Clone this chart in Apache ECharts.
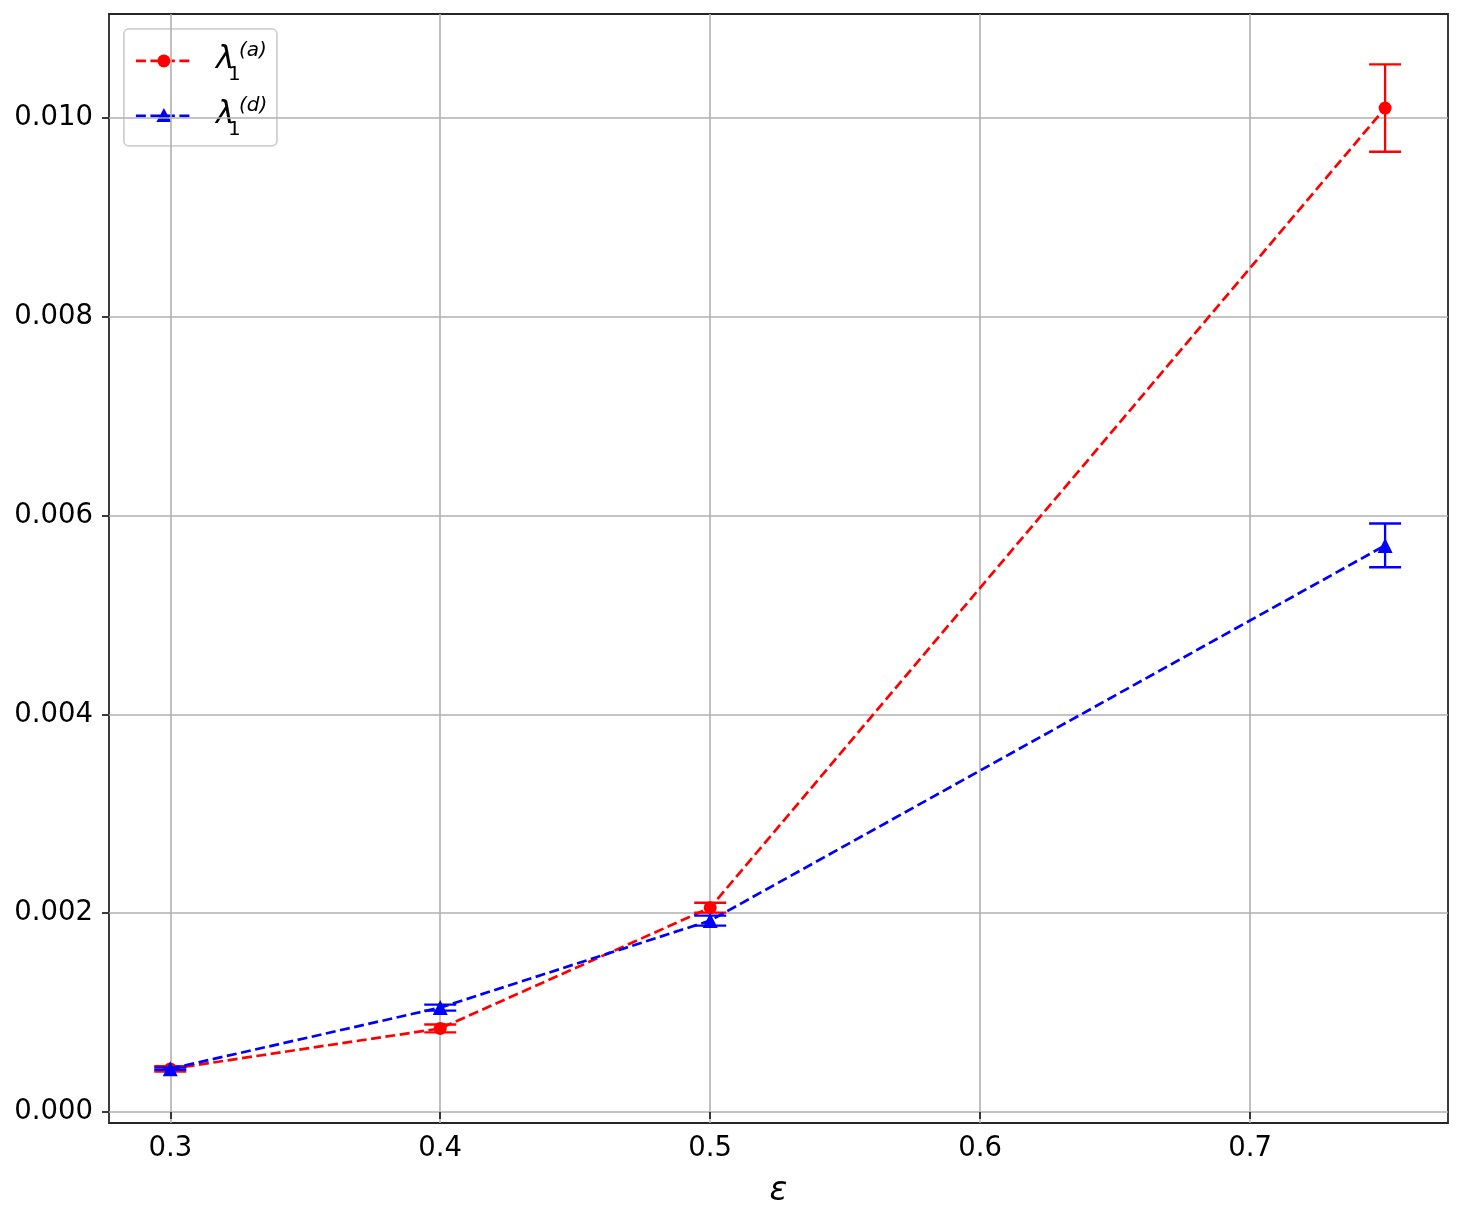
<!DOCTYPE html>
<html>
<head>
<meta charset="utf-8">
<script src="https://cdn.jsdelivr.net/npm/echarts@6/dist/echarts.min.js"></script>
<style>
  html, body { margin: 0; padding: 0; background: #fff; }
  #chart { width: 1462px; height: 1221px; }
</style>
</head>
<body>
<div id="chart"></div>
<script>
// epsilon values (x)
var eps = [0.3, 0.4, 0.5, 0.75];
// lambda_1^(a) with error
var lamA = [0.000433, 0.00084, 0.002055, 0.0101];
var errA = [0.000027, 0.00004, 0.00005, 0.00044];
// lambda_1^(d) with error
var lamD = [0.000435, 0.00105, 0.001925, 0.0057];
var errD = [0.000012, 0.00003, 0.00005, 0.00022];
// tick labels
var xTicks = [0.3, 0.4, 0.5, 0.6, 0.7];
var yTicks = [0, 0.002, 0.004, 0.006, 0.008, 0.010];

var RED = '#ff0000';
var BLUE = '#0000ff';
var FONT = 'DejaVu Sans';

function pairs(ys) {
    return eps.map(function (x, i) { return [x, ys[i]]; });
}
function bars(ys, err) {
    return eps.map(function (x, i) { return [x, ys[i] - err[i], ys[i] + err[i]]; });
}

// draws vertical error bar with caps
function errorBar(color) {
    return function (params, api) {
        var x = api.value(0);
        var lo = api.coord([x, api.value(1)]);
        var hi = api.coord([x, api.value(2)]);
        var w = 16;
        var style = { stroke: color, lineWidth: 2.3 };
        return {
            type: 'group',
            children: [
                { type: 'line', shape: { x1: lo[0], y1: lo[1], x2: hi[0], y2: hi[1] }, style: style },
                { type: 'line', shape: { x1: lo[0] - w, y1: lo[1], x2: lo[0] + w, y2: lo[1] }, style: style },
                { type: 'line', shape: { x1: hi[0] - w, y1: hi[1], x2: hi[0] + w, y2: hi[1] }, style: style }
            ]
        };
    };
}

var chart = echarts.init(document.getElementById('chart'));

var option = {
    animation: false,
    backgroundColor: '#fff',
    grid: {
        left: 109,
        right: 14,
        top: 14,
        bottom: 98,
        show: true,
        borderColor: '#262626',
        borderWidth: 1.8
    },
    xAxis: {
        type: 'value',
        min: 0.2773,
        max: 0.7733,
        interval: 0.1,
        name: 'ε',
        nameLocation: 'middle',
        nameGap: 52,
        nameTextStyle: { fontFamily: FONT, fontStyle: 'italic', fontSize: 33, color: '#000' },
        axisLine: { show: false },
        axisTick: {
            show: true, length: 7, customValues: xTicks,
            lineStyle: { color: '#262626', width: 1.8 }
        },
        axisLabel: {
            customValues: xTicks,
            margin: 12,
            fontFamily: FONT, fontSize: 27.5, color: '#000',
            formatter: function (v) { return v.toFixed(1); }
        },
        splitLine: { show: true, lineStyle: { color: '#b0b0b0', width: 1.6 } }
    },
    yAxis: {
        type: 'value',
        min: -0.000111,
        max: 0.011046,
        interval: 0.002,
        axisLine: { show: false },
        axisTick: {
            show: true, length: 7, customValues: yTicks,
            lineStyle: { color: '#262626', width: 1.8 }
        },
        axisLabel: {
            customValues: yTicks,
            margin: 16,
            fontFamily: FONT, fontSize: 27.5, color: '#000',
            formatter: function (v) { return v.toFixed(3); }
        },
        splitLine: { show: true, lineStyle: { color: '#b0b0b0', width: 1.6 } }
    },
    series: [
        {
            type: 'custom',
            renderItem: errorBar(RED),
            data: bars(lamA, errA),
            z: 3
        },
        {
            type: 'line',
            data: pairs(lamA),
            symbol: 'circle',
            symbolSize: 13,
            itemStyle: { color: RED },
            lineStyle: { color: RED, width: 2.7, type: [10, 4.5] },
            z: 4
        },
        {
            type: 'custom',
            renderItem: errorBar(BLUE),
            data: bars(lamD, errD),
            z: 5
        },
        {
            type: 'line',
            data: pairs(lamD),
            symbol: 'triangle',
            symbolSize: 15,
            itemStyle: { color: BLUE },
            lineStyle: { color: BLUE, width: 2.7, type: [10, 4.5] },
            z: 6
        }
    ],
    graphic: [
        {
            type: 'group',
            left: 123,
            top: 28,
            z: 100,
            children: [
                {
                    type: 'rect',
                    shape: { x: 0, y: 0, width: 153, height: 117, r: 5 },
                    style: { fill: 'rgba(255,255,255,0.8)', stroke: '#d0d0d0', lineWidth: 1.8 }
                },
                // row a
                { type: 'line', shape: { x1: 12, y1: 32, x2: 69, y2: 32 },
                  style: { stroke: RED, lineWidth: 2.7, lineDash: [10, 4.5] } },
                { type: 'circle', shape: { cx: 40, cy: 32, r: 6.5 }, style: { fill: RED } },
                { type: 'text', x: 92, y: 16, style: { text: 'λ', font: 'italic 31px "DejaVu Sans"', fill: '#000' } },
                { type: 'text', x: 104, y: 36, style: { text: '1', font: '20px "DejaVu Sans"', fill: '#000' } },
                { type: 'text', x: 115, y: 12, style: { text: '(a)', font: 'italic 20px "DejaVu Sans"', fill: '#000' } },
                // row d
                { type: 'line', shape: { x1: 12, y1: 87, x2: 69, y2: 87 },
                  style: { stroke: BLUE, lineWidth: 2.7, lineDash: [10, 4.5] } },
                { type: 'polygon', shape: { points: [[40, 79], [47.5, 93], [32.5, 93]] }, style: { fill: BLUE } },
                { type: 'text', x: 92, y: 71, style: { text: 'λ', font: 'italic 31px "DejaVu Sans"', fill: '#000' } },
                { type: 'text', x: 104, y: 91, style: { text: '1', font: '20px "DejaVu Sans"', fill: '#000' } },
                { type: 'text', x: 115, y: 67, style: { text: '(d)', font: 'italic 20px "DejaVu Sans"', fill: '#000' } }
            ]
        }
    ]
};

chart.setOption(option);
</script>
</body>
</html>
